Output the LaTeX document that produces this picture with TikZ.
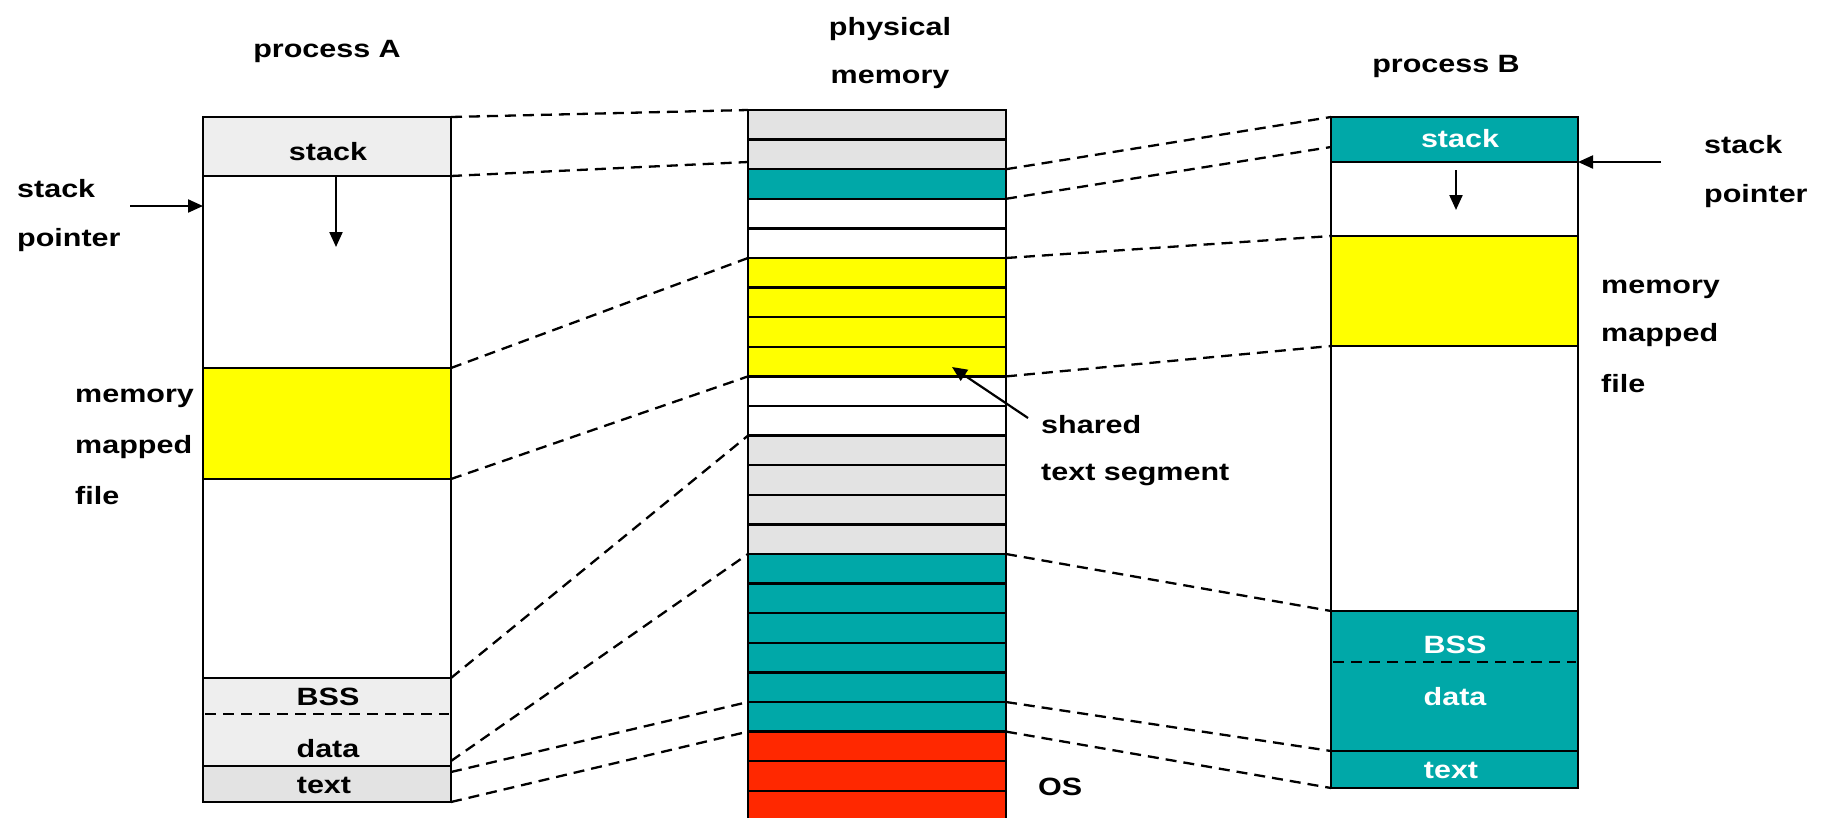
\documentclass[tikz,border=0pt]{standalone}
\usepackage{fontspec}
\setmainfont{Liberation Sans}[FakeStretch=1.22]
\usetikzlibrary{arrows.meta}
\definecolor{tealc}{RGB}{0,168,168}
\definecolor{yel}{RGB}{255,255,0}
\definecolor{osred}{RGB}{255,40,0}
\definecolor{pgrey}{RGB}{227,227,227}
\definecolor{agrey}{RGB}{238,238,238}
\begin{document}
\begin{tikzpicture}[x=1pt,y=-1pt,
  seg/.style={draw, line width=2.4pt, inner sep=0pt, outer sep=0pt, anchor=north west},
  link/.style={line width=2.3pt, dash pattern=on 11pt off 7pt},
  arr/.style={line width=2.2pt, -{Triangle[length=15pt,width=13pt]}},
  lbl/.style={inner sep=0pt, font=\bfseries\fontsize{25}{30}\selectfont},
  lblc/.style={lbl, anchor=base},
  lbll/.style={lbl, anchor=base west},
]
\useasboundingbox (0,0) rectangle (1823,817);
\clip (0,0) rectangle (1823,817);

% ---------- process A ----------
\node[seg, fill=agrey, minimum width=248pt, minimum height=59pt]  (Astack) at (203,117) {};
\node[seg, fill=white, minimum width=248pt, minimum height=192pt] (Aheap)  at (203,176) {};
\node[seg, fill=yel,   minimum width=248pt, minimum height=111pt] (Ammf)   at (203,368) {};
\node[seg, fill=white, minimum width=248pt, minimum height=199pt] (Afree)  at (203,479) {};
\node[seg, fill=agrey, minimum width=248pt, minimum height=88pt]  (Abss)   at (203,678) {};
\node[seg, fill=pgrey, minimum width=248pt, minimum height=36pt]  (Atext)  at (203,766) {};
\coordinate (AdL) at (205,714);
\coordinate (AdR) at (449,714);
\draw[link] (AdL) -- (AdR);

\node[lblc] (tA)     at (327,57)  {process A};
\node[lblc] (tAst)   at (328,160) {stack};
\node[lblc] (tAbss)  at (328,705) {BSS};
\node[lblc] (tAdata) at (328,757) {data};
\node[lblc] (tAtext) at (324,793) {text};
\node[lbll] (tAsp1)  at (17,197)  {stack};
\node[lbll] (tAsp2)  at (17,246)  {pointer};
\node[lbll] (tAm1)   at (75,402)  {memory};
\node[lbll] (tAm2)   at (75,453)  {mapped};
\node[lbll] (tAm3)   at (75,504)  {file};

\coordinate (AspT) at (130,206);
\draw[arr] (AspT) -- (Aheap.west |- AspT);
\coordinate (AarE) at (336,247);
\draw[arr] (Astack.south -| AarE) -- (AarE);

% ---------- physical memory ----------
\foreach \i/\c in {0/pgrey,1/pgrey,2/tealc,3/white,4/white,5/yel,6/yel,7/yel,8/yel,
  9/white,10/white,11/pgrey,12/pgrey,13/pgrey,14/pgrey,15/tealc,16/tealc,17/tealc,
  18/tealc,19/tealc,20/tealc,21/osred,22/osred,23/osred}
  \node[seg, fill=\c, minimum width=258pt, minimum height=29.6pt] (P\i) at (748,{110+29.6*\i}) {};

\node[lblc] (tP1) at (890,35) {physical};
\node[lblc] (tP2) at (890,83) {memory};
\node[lbll] (tSh1) at (1041,433) {shared};
\node[lbll] (tSh2) at (1041,480) {text segment};
\node[lbll] (tOS)  at (1038,795) {OS};
\coordinate (shT) at (1028,418);
\coordinate (shH) at (952,367);
\draw[arr] (shT) -- (shH);

% ---------- process B ----------
\node[seg, fill=tealc, minimum width=247pt, minimum height=45pt]  (Bstack) at (1331,117) {};
\node[seg, fill=white, minimum width=247pt, minimum height=74pt]  (Bheap)  at (1331,162) {};
\node[seg, fill=yel,   minimum width=247pt, minimum height=110pt] (Bmmf)   at (1331,236) {};
\node[seg, fill=white, minimum width=247pt, minimum height=265pt] (Bfree)  at (1331,346) {};
\node[seg, fill=tealc, minimum width=247pt, minimum height=140pt] (Bbss)   at (1331,611) {};
\node[seg, fill=tealc, minimum width=247pt, minimum height=37pt]  (Btext)  at (1331,751) {};
\coordinate (BdL) at (1333,662);
\coordinate (BdR) at (1576,662);
\draw[link] (BdL) -- (BdR);

\node[lblc] (tB)     at (1446,72)  {process B};
\node[lblc, text=white] (tBst)   at (1460,147) {stack};
\node[lblc, text=white] (tBbss)  at (1455,653) {BSS};
\node[lblc, text=white] (tBdata) at (1455,705) {data};
\node[lblc, text=white] (tBtext) at (1451,778) {text};
\node[lbll] (tBsp1) at (1704,153) {stack};
\node[lbll] (tBsp2) at (1704,202) {pointer};
\node[lbll] (tBm1)  at (1601,293) {memory};
\node[lbll] (tBm2)  at (1601,341) {mapped};
\node[lbll] (tBm3)  at (1601,392) {file};

\coordinate (BspT) at (1661,162);
\draw[arr] (BspT) -- (Bstack.south east);
\coordinate (BarS) at (1456,170);
\coordinate (BarE) at (1456,210);
\draw[arr] (BarS) -- (BarE);

% ---------- mapping lines A -> physical ----------
\coordinate (pA2) at (748,162);
\coordinate (aA6) at (451,761);
\coordinate (aA7) at (451,772);
\draw[link] (Astack.north east) -- (P0.north west);
\draw[link] (Astack.south east) -- (pA2);
\draw[link] (Ammf.north east) -- (P5.north west);
\draw[link] (Ammf.south east) -- (P9.north west);
\draw[link] (Abss.north east) -- (P11.north west);
\draw[link] (aA6) -- (P15.north west);
\draw[link] (aA7) -- (P20.north west);
\draw[link] (Atext.south east) -- (P21.north west);

% ---------- mapping lines physical -> B ----------
\coordinate (bB2) at (1331,147);
\draw[link] (P2.north east) -- (Bstack.north west);
\draw[link] (P3.north east) -- (bB2);
\draw[link] (P5.north east) -- (Bmmf.north west);
\draw[link] (P9.north east) -- (Bmmf.south west);
\draw[link] (P15.north east) -- (Bbss.north west);
\draw[link] (P20.north east) -- (Btext.north west);
\draw[link] (P21.north east) -- (Btext.south west);
\end{tikzpicture}
\end{document}
